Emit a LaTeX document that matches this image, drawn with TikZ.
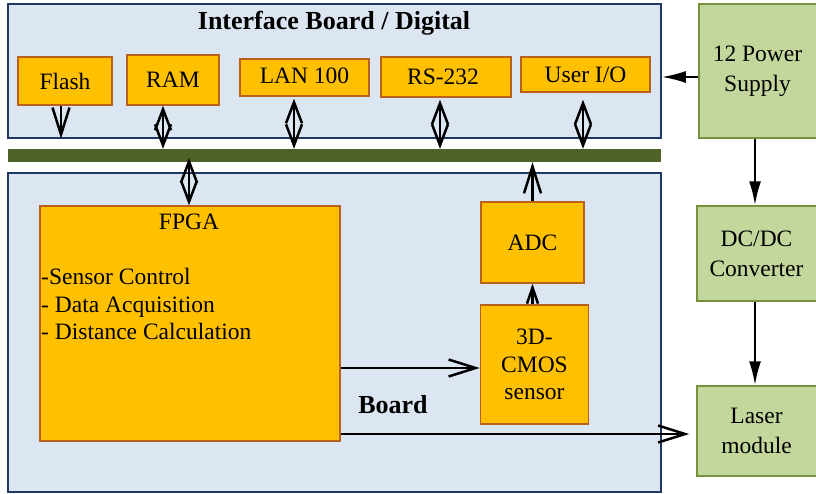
\documentclass[tikz,border=0pt]{standalone}
\usepackage{fontspec}
\setmainfont{Liberation Serif}
\usetikzlibrary{arrows.meta}
\definecolor{panelfill}{HTML}{DCE6F2}
\definecolor{paneldraw}{HTML}{1F3864}
\definecolor{orfill}{HTML}{FFC000}
\definecolor{ordraw}{HTML}{B8601C}
\definecolor{grfill}{HTML}{C3D69B}
\definecolor{grdraw}{HTML}{76923C}
\definecolor{busc}{HTML}{4F6228}
\begin{document}
\begin{tikzpicture}[x=1pt,y=-1pt,
  txt/.style={font=\fontsize{23.5}{27.5}\selectfont, align=center},
  bold/.style={font=\fontsize{26}{30}\selectfont\bfseries},
  panel/.style={draw=paneldraw, fill=panelfill, line width=1.5pt},
  obox/.style={draw=ordraw, fill=orfill, line width=1.5pt, rectangle, inner sep=0pt, txt},
  gbox/.style={draw=grdraw, fill=grfill, line width=1.5pt, rectangle, inner sep=0pt, txt, font=\fontsize{23.5}{30}\selectfont},
  conn/.style={line width=2.2pt, black},
  openarr/.style={conn, -{Straight Barb[length=27pt,width=17pt,line width=2.5pt]}},
  dbl/.style={conn, {Straight Barb[length=21pt,width=16pt,line width=2.5pt]}-{Straight Barb[length=21pt,width=16pt,line width=2.5pt]}},
  smallarr/.style={conn, -{Straight Barb[length=16pt,width=11pt,line width=2.5pt]}},
  fillarr/.style={conn, -{Latex[length=24pt,width=12pt]}}
]
\useasboundingbox (0,0) rectangle (816,493);
\fill[white] (0,0) rectangle (816,493);
% panels
\node[panel, rectangle, minimum width=653pt, minimum height=134pt, inner sep=0pt] (top) at (334.5,71) {};
\node[panel, rectangle, minimum width=653pt, minimum height=319pt, inner sep=0pt] (bottom) at (334.5,332.5) {};
\node[fill=busc, rectangle, minimum width=653pt, minimum height=13pt, inner sep=0pt] (bus) at (334.5,155.5) {};
\node[bold] (title) at (334,23) {Interface Board / Digital};
\node[bold] (boardlbl) at (393,405) {Board};
% top boxes
\node[obox, minimum width=94pt, minimum height=48pt] (flash) at (65,81) {Flash};
\node[obox, minimum width=92pt, minimum height=50pt] (ram) at (173,80) {RAM};
\node[obox, minimum width=129pt, minimum height=37pt] (lan) at (304.5,77.5) {\raisebox{3pt}{LAN 100}};
\node[obox, minimum width=130pt, minimum height=40pt] (rs) at (446,77) {\hspace*{-6pt}RS-232};
\node[obox, minimum width=129pt, minimum height=35pt] (user) at (585.5,74.5) {User I/O};
% bottom boxes
\node[obox, minimum width=300pt, minimum height=235pt] (fpga) at (190,323.5) {};
\node[txt] (fpgat) at (189,222) {FPGA};
\node[txt, align=left, anchor=west, inner sep=0pt] (fpgal) at (41,304) {-Sensor Control\\- Data Acquisition\\- Distance Calculation};
\node[obox, minimum width=103pt, minimum height=81pt] (adc) at (532.5,242.5) {ADC};
\node[obox, minimum width=108pt, minimum height=119pt] (cmos) at (534.5,364.5) {3D-\\CMOS\\sensor};
% right boxes
\node[gbox, minimum width=123pt, minimum height=134pt] (power) at (760.5,71) {\hspace*{-6pt}12 Power\\\hspace*{-6pt}Supply};
\node[gbox, minimum width=125pt, minimum height=95pt] (dcdc) at (759.5,253.5) {\hspace*{-6pt}DC/DC\\\hspace*{-6pt}Converter};
\node[gbox, minimum width=125pt, minimum height=90pt] (laser) at (759.5,431) {\hspace*{-6pt}Laser\\\hspace*{-6pt}module};
% connectors
\draw[openarr] (61,0 |- flash.south) -- (61,0 |- top.south);
\draw[dbl] (163,0 |- ram.south) -- (163,0 |- bus.north);
\draw[dbl] (294,0 |- lan.south) ++(0,2) -- (294,0 |- bus.north);
\draw[dbl] (440,0 |- rs.south) ++(0,2) -- (440,0 |- bus.north);
\draw[dbl] (583,0 |- user.south) ++(0,7) -- (583,0 |- bus.north);
\draw[dbl] (189,158) -- (189,0 |- fpga.north);
\draw[openarr] (adc.north) -- (adc.north |- bus.south);
\draw[smallarr] (cmos.north -| adc.south) -- (adc.south);
\draw[openarr] (fpga.east |- 0,368) -- (cmos.west |- 0,368);
\draw[openarr] (fpga.east |- 0,434) -- ([xshift=-7pt]laser.west |- 0,434);
\draw[fillarr] (power.west |- 0,77) -- (top.east |- 0,77);
\draw[fillarr] (755,0 |- power.south) -- (755,0 |- dcdc.north);
\draw[fillarr] (755,0 |- dcdc.south) -- (755,0 |- laser.north);
\end{tikzpicture}
\end{document}
